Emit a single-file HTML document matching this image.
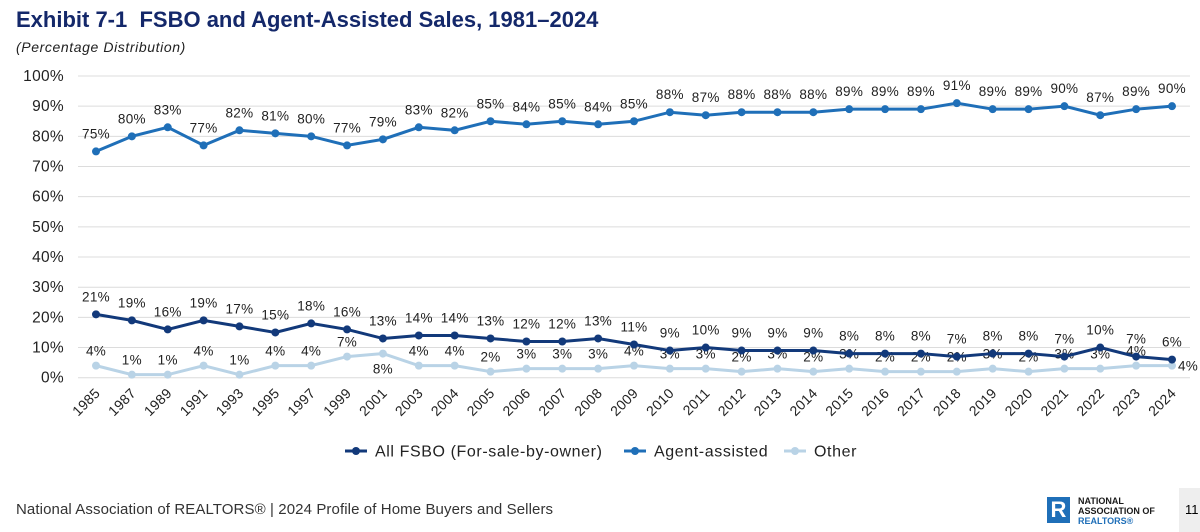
<!DOCTYPE html>
<html><head><meta charset="utf-8"><style>
body{margin:0;background:#fff;font-family:"Liberation Sans",sans-serif;}
#wrap{position:relative;width:1200px;height:532px;overflow:hidden;background:#fff;}
</style></head><body>
<div id="wrap">
<div style="position:absolute;left:16px;top:7px;font-size:22px;font-weight:bold;color:#14286a;letter-spacing:0px;">Exhibit 7-1&nbsp; FSBO and Agent-Assisted Sales, 1981–2024</div>
<div style="position:absolute;left:16px;top:39px;font-size:14px;font-style:italic;color:#222;letter-spacing:0.6px;">(Percentage Distribution)</div>
<svg id="chart" width="1200" height="532" style="position:absolute;left:0;top:0"></svg>
<div style="position:absolute;left:16px;top:501px;font-size:15px;color:#333;letter-spacing:0.1px;">National Association of REALTORS® | 2024 Profile of Home Buyers and Sellers</div>
<div style="position:absolute;left:1047px;top:497px;width:23px;height:26px;background:#1f6fb8;color:#fff;font-weight:bold;font-size:22px;line-height:26px;text-align:center;">R</div>
<div style="position:absolute;left:1078px;top:496px;font-size:9px;font-weight:bold;line-height:10px;color:#1a1a1a;">NATIONAL<br>ASSOCIATION OF<br><span style="color:#1f6fb8">REALTORS®</span></div>
<div style="position:absolute;left:1179px;top:488px;width:21px;height:44px;background:#eee;font-size:13px;line-height:44px;padding-left:6px;">11</div>
</div>
<script>
const categories=["1985","1987","1989","1991","1993","1995","1997","1999","2001","2003","2004","2005","2006","2007","2008","2009","2010","2011","2012","2013","2014","2015","2016","2017","2018","2019","2020","2021","2022","2023","2024"];
const agentValues=[75,80,83,77,82,81,80,77,79,83,82,85,84,85,84,85,88,87,88,88,88,89,89,89,91,89,89,90,87,89,90];
const fsboValues=[21,19,16,19,17,15,18,16,13,14,14,13,12,12,13,11,9,10,9,9,9,8,8,8,7,8,8,7,10,7,6];
const otherValues=[4,1,1,4,1,4,4,7,8,4,4,2,3,3,3,4,3,3,2,3,2,3,2,2,2,3,2,3,3,4,4];
const yTicks=[0,10,20,30,40,50,60,70,80,90,100];
const NS="http://www.w3.org/2000/svg";
const svg=document.getElementById('chart');
const x0=96,x1=1172,yBase=377.7,yTop=76;
const xs=i=>x0+(x1-x0)*i/(categories.length-1);
const ys=v=>yBase-(yBase-yTop)*v/100;
function mk(t,a){const e=document.createElementNS(NS,t);for(const k in a)e.setAttribute(k,a[k]);svg.appendChild(e);return e;}
yTicks.forEach(t=>{
  const l=mk('line',{x1:78,x2:1190,y1:ys(t),y2:ys(t),stroke:'#dcdcdc','stroke-width':1});
  
  
  const tx=mk('text',{x:64,y:ys(t)+5,'text-anchor':'end','font-size':15.5,fill:'#222','letter-spacing':0.3});
  tx.textContent=t+'%';
  
  
});
categories.forEach((c,i)=>{
  const tx=mk('text',{x:xs(i)+5,y:394,'text-anchor':'end','font-size':14,fill:'#222','letter-spacing':0.3,transform:`rotate(-45 ${xs(i)+5} 394)`});
  tx.textContent=c;
  
  
});
function series(vals,color,name,labelPos){
  const p=mk('polyline',{points:vals.map((v,i)=>xs(i)+','+ys(v)).join(' '),fill:'none',stroke:color,'stroke-width':3});
  
  
  vals.forEach((v,i)=>{
    const c=mk('circle',{cx:xs(i),cy:ys(v),r:4,fill:color});
    
    
    const off=labelPos(i);
    const t=mk('text',{x:xs(i)+off[0],y:ys(v)+off[1],'text-anchor':'middle','font-size':13.5,fill:'#222','letter-spacing':0.3});
    t.textContent=v+'%';
    
    
  });
}
series(otherValues,'#b9d3e6','other',i=>i===8?[0,20]:(i===categories.length-1?[16,5]:[0,-10]));
series(fsboValues,'#12397a','fsbo',i=>[0,-13]);
series(agentValues,'#1f6fb8','agent',i=>[0,-13]);
const legend=[['All FSBO (For-sale-by-owner)','#12397a',345],['Agent-assisted','#1f6fb8',624],['Other','#b9d3e6',784]];
legend.forEach(l=>{
  const ln=mk('line',{x1:l[2],x2:l[2]+22,y1:451,y2:451,stroke:l[1],'stroke-width':3});
  
  
  const c=mk('circle',{cx:l[2]+11,cy:451,r:4,fill:l[1]});
  
  
  const t=mk('text',{x:l[2]+30,y:456.5,'font-size':16,fill:'#222','letter-spacing':0.6});
  t.textContent=l[0];
  
  
});
</script>
</body></html>
